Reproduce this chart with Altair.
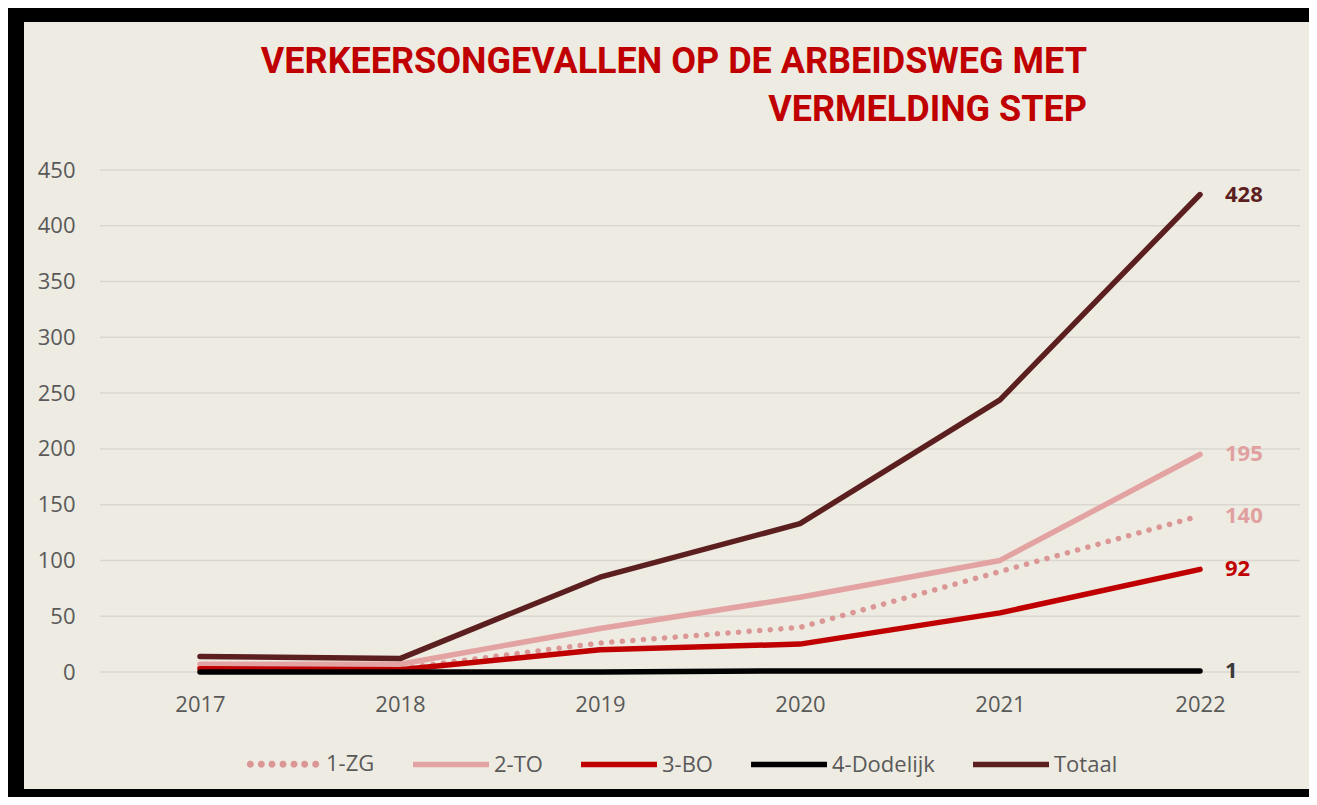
import math
import altair as alt
import pandas as pd

# ---- data ----
years = [2017, 2018, 2019, 2020, 2021, 2022]
series_names = ["1-ZG", "2-TO", "3-BO", "4-Dodelijk", "Totaal"]
zg = [4, 3, 26, 40, 90, 140]
to = [7, 7, 39, 67, 100, 195]
bo = [3, 2, 20, 25, 53, 92]
dodelijk = [0, 0, 0, 1, 1, 1]
totaal = [14, 12, 85, 133, 244, 428]
y_ticks = [0, 50, 100, 150, 200, 250, 300, 350, 400, 450]

title_lines = ["VERKEERSONGEVALLEN OP DE ARBEIDSWEG MET", "VERMELDING STEP"]

# ---- styles ----
line_colors = ["#DB9696", "#E3A3A3", "#C00000", "#000000", "#5C1F1F"]
label_colors = ["#E0A0A0", "#E0A0A0", "#C00000", "#3A3A3A", "#5C1F1F"]


def dot_poly(cx, r=0.018, n=12):
    pts = [(cx + r * math.cos(2 * math.pi * k / n), r * math.sin(2 * math.pi * k / n)) for k in range(n)]
    return "M" + " L".join(f"{x:.4f} {y:.4f}" for x, y in pts) + " Z "


# legend symbol shapes (unit square coordinates): a row of dots, or a solid stroke
dotted_path = "".join(dot_poly(x) for x in [-0.86, -0.57, -0.29, 0, 0.29, 0.57, 0.86])
solid_path = "M -1 0 L 1 0"
legend_shapes = [dotted_path, solid_path, solid_path, solid_path, solid_path]

BG = "#EEEBE2"
GRID = "#DAD7D0"
TXT = "#595959"
FONT = "Open Sans"
TITLE_FONT = "Roboto"

W, H = 1200, 502
PAD = {"left": 92, "top": 162, "right": 9, "bottom": 125}
RIGHT_EDGE = W + PAD["right"]
BOTTOM_EDGE = H + PAD["bottom"]

values = [zg, to, bo, dodelijk, totaal]
rows = []
for s, vals, lc in zip(series_names, values, label_colors):
    for y, v in zip(years, vals):
        rows.append({"year": y, "series": s, "value": v, "labcol": lc})
df = pd.DataFrame(rows)
grid_df = pd.DataFrame({"v": y_ticks})

y_axis = alt.Axis(values=y_ticks, title=None, grid=False, domain=False, ticks=False,
                  labelPadding=25, zindex=1)
y_scale = alt.Scale(domain=[0, 450], nice=False, zero=True)
x_enc = alt.X("year:O", scale=alt.Scale(type="point", padding=0.5),
              axis=alt.Axis(title=None, labelAngle=0, domain=False, ticks=False,
                            labelPadding=22, zindex=1))
y_enc = alt.Y("value:Q", scale=y_scale, axis=y_axis)
color_scale = alt.Scale(domain=series_names, range=line_colors)

legend = alt.Legend(title=None, orient="none", direction="horizontal",
                    legendX=142, legendY=553, symbolSize=5776,
                    symbolStrokeWidth=5.5, labelFont=FONT, labelFontSize=22,
                    labelColor=TXT, labelOffset=2, columnPadding=27, padding=0,
                    symbolOpacity=1, zindex=1)
color_enc = alt.Color("series:N", scale=color_scale, legend=legend)

frame = alt.Chart(alt.Data(values=[{"a": 1}])).mark_rect(color="#000000").encode(
    x=alt.value(-PAD["left"]), x2=alt.value(RIGHT_EDGE),
    y=alt.value(-PAD["top"]), y2=alt.value(BOTTOM_EDGE)
)
bg = alt.Chart(alt.Data(values=[{"a": 1}])).mark_rect(color=BG).encode(
    x=alt.value(-PAD["left"] + 16), x2=alt.value(RIGHT_EDGE),
    y=alt.value(-PAD["top"] + 14), y2=alt.value(BOTTOM_EDGE - 8)
)

grid = alt.Chart(grid_df).mark_rule(color=GRID, strokeWidth=1.5).encode(
    y=alt.Y("v:Q", scale=y_scale, axis=y_axis),
    x=alt.value(0), x2=alt.value(W),
)

# carries the legend symbols only (no points drawn)
legend_layer = alt.Chart(df).transform_filter("false").mark_point(filled=False, opacity=1).encode(
    x=x_enc, y=y_enc, color=color_enc,
    shape=alt.Shape("series:N", scale=alt.Scale(domain=series_names, range=legend_shapes),
                    legend=legend),
)

dotted = alt.Chart(df).transform_filter(alt.datum.series == "1-ZG").mark_line(
    strokeWidth=5.5, strokeCap="round", strokeJoin="round", strokeDash=[0.1, 10.5]
).encode(x=x_enc, y=y_enc, color=color_enc, order=alt.Order("year:O"))

solid = alt.Chart(df).transform_filter(alt.datum.series != "1-ZG").mark_line(
    strokeWidth=5.5, strokeCap="round", strokeJoin="round"
).encode(x=x_enc, y=y_enc, color=color_enc, order=alt.Order("year:O"))

labels = alt.Chart(df).transform_filter(alt.datum.year == 2022).mark_text(
    align="left", baseline="middle", dx=25, font=FONT, fontSize=22, fontWeight="bold"
).encode(
    x=alt.X("year:O"),
    y=alt.Y("value:Q"),
    text=alt.Text("value:Q"),
    color=alt.Color("labcol:N", scale=None),
)

chart = alt.layer(frame, bg, grid, legend_layer, dotted, solid, labels).properties(
    width=W, height=H,
    title=alt.TitleParams(text=title_lines, anchor="end", align="right", frame="group",
                          font=TITLE_FONT, fontSize=36, fontWeight="bold", color="#C00000",
                          lineHeight=48, dx=-213, dy=165, offset=44, zindex=1),
    autosize=alt.AutoSizeParams(type="none"),
    padding=PAD,
).configure(
    background=BG,
).configure_view(stroke=None).configure_axis(
    labelFont=FONT, labelFontSize=22, labelColor=TXT
)

chart.save("out.html", embed_options={"renderer": "svg", "actions": False})
